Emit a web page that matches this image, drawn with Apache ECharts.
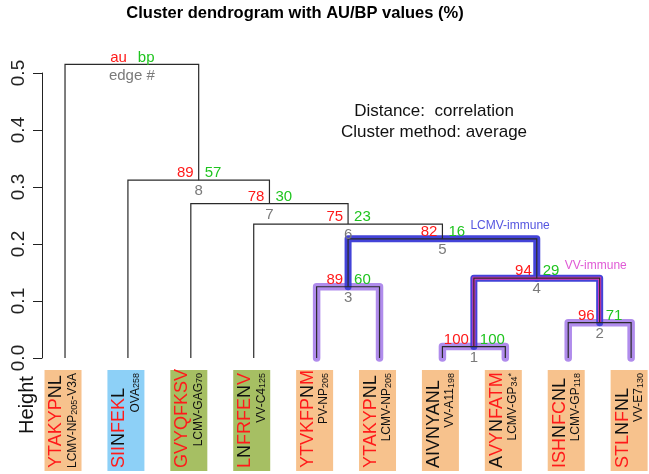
<!DOCTYPE html>
<html><head><meta charset="utf-8">
<script src="https://cdn.jsdelivr.net/npm/echarts@6/dist/echarts.min.js"></script>
<style>html,body{margin:0;padding:0;background:#fff}#c{width:649px;height:474px}</style>
</head><body><div id="c"></div>
<script>
// ---------- data ----------
const peptides   = ['YTAKYPNL','SIINFEKL','GVYQFKSV','LNFRFENV','YTVKFPNM','YTAKYPNL','AIVNYANL','AVYNFATM','ISHNFCNL','STLNFNL'];
const redMask    = ['11111100','11101110','11111111','10111101','11111101','11111100','00000000','01101111','11101100','1110100'];
const sourceBase = ['LCMV-NP','OVA','LCMV-GAG','VV-C4','PV-NP','LCMV-NP','VV-A11','LCMV-GP','LCMV-GP','VV-E7'];
const sourceSub  = ['205','258','70','125','205','205','198','34','118','130'];
const sourceTail = ['-V3A','','','','','','','','',''];
const sourceSup  = ['','','','','','','','*','',''];
const leafGroup  = ['orange','blue','green','green','orange','orange','orange','orange','orange','orange'];
// hclust-style merge matrix (negative = leaf, positive = earlier merge)
const merge   = [[-7,-8],[-9,-10],[-5,-6],[1,2],[3,4],[-4,5],[-3,6],[-2,7],[-1,8]];
const heights = [0.020,0.062,0.125,0.140,0.209,0.235,0.271,0.312,0.515];
const auValues = [100,96,89,94,82,75,78,89];
const bpValues = [100,71,60,29,16,23,30,57];
const edgeIds  = [1,2,3,4,5,6,7,8];
const legendLabels = ['au','bp','edge #'];
const purpleNodes = [3,1,2];
const blueNodes = [5,4];
const magentaNodes = [4];
const clusterLabelNodes = [5,4];
const clusterLabelTexts = ['LCMV-immune','VV-immune'];
const yTicks = [0,0.1,0.2,0.3,0.4,0.5];

// ---------- derived ----------
const nodeX = [], nodeH = [];
function pos(ref){ return ref < 0 ? [-ref, 0] : [nodeX[ref-1], nodeH[ref-1]]; }
const nodeSeg = merge.map((m,k)=>{
  const a = pos(m[0]), b = pos(m[1]);
  nodeX[k] = (a[0]+b[0])/2; nodeH[k] = heights[k];
  return [a[0], a[1], b[0], b[1], heights[k], nodeX[k]];
});
const FONT = 'Liberation Sans, Arial, Helvetica, sans-serif';
const boxFill = {orange:'#f7c28d', blue:'#8dd0f7', green:'#a6bf63'};

function segRender(style){
  return function(params, api){
    const p1 = api.coord([api.value(0), api.value(1)]);
    const p2 = api.coord([api.value(0), api.value(4)]);
    const p3 = api.coord([api.value(2), api.value(4)]);
    const p4 = api.coord([api.value(2), api.value(3)]);
    return {type:'polyline', shape:{points:[p1,p2,p3,p4]}, style: Object.assign({fill:'none'}, style)};
  };
}
function pick(list){ return list.map(n => nodeSeg[n-1]); }

const chart = echarts.init(document.getElementById('c'), null, {renderer:'canvas'});
const option = {
  animation:false,
  backgroundColor:'#fff',
  title:{text:'Cluster dendrogram with AU/BP values (%)', left:290, top:0, textAlign:'center',
    textStyle:{fontFamily:FONT, fontSize:16.5, fontWeight:'bold', color:'#000'}},
  grid:{left:42, right:5.3, top:73, bottom:116},
  xAxis:{type:'value', min:0.634, max:10.2, show:false},
  yAxis:{type:'value', min:0, max:0.5, interval:0.1, splitLine:{show:false},
    axisLine:{show:true, lineStyle:{color:'#222', width:1}},
    axisTick:{show:true, length:9, lineStyle:{color:'#222', width:1}},
    axisLabel:{rotate:90, fontSize:19, fontFamily:FONT, color:'#222', margin:14, formatter:v=>v.toFixed(1)}},
  graphic:[
    {type:'text', x:434, y:111, style:{text:'Distance:  correlation', fontSize:17, fontFamily:FONT, fill:'#111', align:'center', verticalAlign:'middle'}},
    {type:'text', x:434, y:132, style:{text:'Cluster method: average', fontSize:17, fontFamily:FONT, fill:'#111', align:'center', verticalAlign:'middle'}},
    {type:'text', x:27, y:405, rotation:Math.PI/2, style:{text:'Height', fontSize:20, fontFamily:FONT, fill:'#111', align:'center', verticalAlign:'middle'}}
  ],
  series:[
    {type:'custom', clip:false, data:pick(purpleNodes), encode:{x:[0,2], y:[1,3,4]},
      renderItem:segRender({stroke:'#b08cec', lineWidth:7.5, lineCap:'round', lineJoin:'round'})},
    {type:'custom', clip:false, data:pick(blueNodes), encode:{x:[0,2], y:[1,3,4]},
      renderItem:segRender({stroke:'#4343d8', lineWidth:7, lineCap:'round', lineJoin:'round'})},
    {type:'custom', clip:false, data:pick(magentaNodes), encode:{x:[0,2], y:[1,3,4]},
      renderItem:segRender({stroke:'#e23cb8', lineWidth:3, lineCap:'butt', lineJoin:'miter'})},
    {type:'custom', clip:false, data:nodeSeg, encode:{x:[0,2], y:[1,3,4]},
      renderItem:segRender({stroke:'#2a2a2a', lineWidth:1.2})},
    // au / bp / edge labels
    {type:'custom', clip:false, data:nodeSeg.map(s=>[s[5], s[4]]), encode:{x:0, y:1},
      renderItem:function(params, api){
        const k = params.dataIndex;
        const p = api.coord([api.value(0), api.value(1)]);
        const isRoot = k >= auValues.length;
        const t1 = isRoot ? legendLabels[0] : String(auValues[k]);
        const t2 = isRoot ? legendLabels[1] : String(bpValues[k]);
        const t3 = isRoot ? legendLabels[2] : String(edgeIds[k]);
        return {type:'group', children:[
          {type:'text', x:p[0]-5, y:p[1]-7, style:{text:t1, fill:'#ff1a1a', fontSize:15, fontFamily:FONT, align:'right', verticalAlign:'middle'}},
          {type:'text', x:p[0]+6, y:p[1]-7, style:{text:t2, fill:'#1fc41f', fontSize:15, fontFamily:FONT, align:'left', verticalAlign:'middle'}},
          {type:'text', x:p[0], y:p[1]+11, style:{text:t3, fill:'#7a7a7a', fontSize:15, fontFamily:FONT, align:'center', verticalAlign:'middle'}}
        ]};
      }},
    // cluster names
    {type:'custom', clip:false, data:clusterLabelNodes.map(n=>[nodeX[n-1], nodeH[n-1]]), encode:{x:0, y:1},
      renderItem:function(params, api){
        const k = params.dataIndex;
        const p = api.coord([api.value(0), api.value(1)]);
        return {type:'text', x:p[0]+28, y:p[1]-13, style:{text:clusterLabelTexts[k], fill: k===0 ? '#5555e0' : '#e05ad6', fontSize:12, fontFamily:FONT, align:'left', verticalAlign:'middle'}};
      }},
    // leaf boxes
    {type:'custom', clip:false, data:peptides.map((p,i)=>[i+1, 0]), encode:{x:0, y:1},
      renderItem:function(params, api){
        const i = params.dataIndex;
        const p = api.coord([api.value(0), 0]);
        const cx = p[0], top = p[1] + 12, h = 101, w = 37;
        const pep = peptides[i], mask = redMask[i];
        let rt = '', cur = null, buf = '';
        for (let j=0;j<pep.length;j++){
          const c = mask[j]==='1' ? 'r' : 'k';
          if (c!==cur && buf){ rt += '{'+cur+'|'+buf+'}'; buf=''; }
          cur = c; buf += pep[j];
        }
        rt += '{'+cur+'|'+buf+'}';
        let st = '{n|'+sourceBase[i]+'}{s|'+sourceSub[i]+'}';
        if (sourceTail[i]) st += '{n|'+sourceTail[i]+'}';
        if (sourceSup[i]) st += '{u|'+sourceSup[i]+'}';
        return {type:'group', children:[
          {type:'rect', shape:{x:cx-2-w/2, y:top, width:w, height:h}, style:{fill:boxFill[leafGroup[i]]}},
          {type:'text', x:cx-8.5, y:top+h-3, rotation:Math.PI/2,
            style:{text:rt, align:'left', verticalAlign:'middle',
              rich:{r:{fill:'#ff1a1a', fontSize:18, fontFamily:FONT}, k:{fill:'#111', fontSize:18, fontFamily:FONT}}}},
          {type:'text', x:cx+7.5, y:top+3, rotation:Math.PI/2,
            style:{text:st, align:'right', verticalAlign:'middle',
              rich:{n:{fill:'#111', fontSize:12, fontFamily:FONT, lineHeight:12},
                    s:{fill:'#111', fontSize:9, fontFamily:FONT, lineHeight:8, verticalAlign:'bottom'},
                    u:{fill:'#111', fontSize:9, fontFamily:FONT, lineHeight:8, verticalAlign:'top'}}}}
        ]};
      }}
  ]
};
chart.setOption(option);
</script></body></html>
